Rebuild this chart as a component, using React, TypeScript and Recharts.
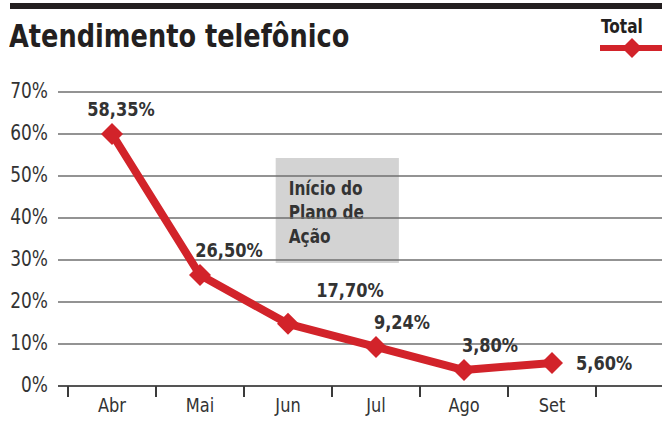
import React from 'react';
import { LineChart, Line, XAxis, YAxis, CartesianGrid, ReferenceArea, LabelList } from 'recharts';

// ---- data ----
const months = ['Abr', 'Mai', 'Jun', 'Jul', 'Ago', 'Set'];
const totalValues = [60, 26.4, 14.8, 9.3, 3.8, 5.5];
const totalLabels = ['58,35%', '26,50%', '17,70%', '9,24%', '3,80%', '5,60%'];
const yTicks = [0, 10, 20, 30, 40, 50, 60, 70];
const title = 'Atendimento telefônico';
const seriesName = 'Total';
const noteLines = ['Início do', 'Plano de', 'Ação'];
const noteX = [2.36, 3.76];
const noteY = [29.3, 54.3];

const data = months.map((m, i) => ({ month: m, pos: i + 0.5, total: totalValues[i], label: totalLabels[i] }));

// ---- styles ----
const RED = '#d2232a';
const INK = '#231f20';
const TXT = '#333333';
const FONT = '"Liberation Sans Narrow", "DejaVu Sans Condensed", "Arial Narrow", "Roboto", sans-serif';
const SQ = 0.9; // horizontal condensing of text
const W = 662;
const H = 446;
const Y_AXIS_W = 58;
const PAD_L = 10;
const PAD_R = 66;
const BAND = (W - Y_AXIS_W - PAD_L - PAD_R) / months.length;

// label placement relative to each point (styling)
const labelDx = [9, 29, 62, 26, 26, 24];
const labelDy = [-25, -25, -34, -25, -25, 0];

const CText = ({ x, y, children, ...rest }: any) => (
  <text transform={`translate(${x} ${y}) scale(${SQ} 1)`} x={0} y={0} fontFamily={FONT} {...rest}>
    {children}
  </text>
);

const XTick = (props: any) => {
  const { x, y, payload, index } = props;
  const half = BAND / 2;
  const isLast = index === months.length - 1;
  return (
    <g>
      <line x1={x - half} y1={y} x2={x - half} y2={y + 11} stroke="#3a3a3a" strokeWidth={2} />
      {isLast && <line x1={x + half} y1={y} x2={x + half} y2={y + 11} stroke="#3a3a3a" strokeWidth={2} />}
      <CText x={x} y={y + 26} textAnchor="middle" fontSize={20} fill={TXT}>
        {payload.value}
      </CText>
    </g>
  );
};

const YTick = (props: any) => {
  const { x, y, payload } = props;
  return (
    <CText x={x} y={y + 6} textAnchor="end" fontSize={21} fill={TXT}>
      {`${payload.value}%`}
    </CText>
  );
};

const Diamond = (props: any) => {
  const { cx, cy } = props;
  if (cx == null || cy == null) return null;
  const r = 11;
  return <polygon points={`${cx},${cy - r} ${cx + r},${cy} ${cx},${cy + r} ${cx - r},${cy}`} fill={RED} />;
};

const PointLabel = (props: any) => {
  const { x, y, index } = props;
  const last = index === months.length - 1;
  return (
    <CText
      x={x + labelDx[index]}
      y={y + labelDy[index] + 7}
      textAnchor={last ? 'start' : 'middle'}
      fontSize={20}
      fontWeight="bold"
      fill={TXT}
    >
      {totalLabels[index]}
    </CText>
  );
};

const NoteLabel = (props: any) => {
  const vb = props.viewBox || {};
  return (
    <g>
      {noteLines.map((t, i) => (
        <CText key={t} x={vb.x + 13} y={vb.y + 37 + i * 24} fontSize={19} fontWeight="bold" fill={TXT}>
          {t}
        </CText>
      ))}
    </g>
  );
};

export default function App() {
  return (
    <div style={{ position: 'absolute', left: 0, top: 0, width: W, height: H, background: '#fff', fontFamily: FONT }}>
      <div style={{ position: 'absolute', left: 10, top: 3, width: W - 10, height: 6, background: INK }} />
      <div
        style={{
          position: 'absolute',
          left: 9,
          top: 16,
          fontSize: 32,
          fontWeight: 'bold',
          color: INK,
          fontFamily: FONT,
          lineHeight: '40px',
          whiteSpace: 'nowrap',
          transform: `scaleX(${0.89})`,
          transformOrigin: 'left top',
        }}
      >
        {title}
      </div>
      <svg style={{ position: 'absolute', left: 590, top: 10 }} width={72} height={52}>
        <CText x={11} y={23} fontSize={19} fontWeight="bold" fill={INK}>
          {seriesName}
        </CText>
        <line x1={10} y1={38} x2={72} y2={38} stroke={RED} strokeWidth={6} />
        <polygon points="42,28 52,38 42,48 32,38" fill={RED} />
      </svg>
      <div style={{ position: 'absolute', left: 0, top: 0 }}>
        <LineChart width={W} height={H} data={data} margin={{ top: 92, right: 0, bottom: 0, left: 0 }}>
          <XAxis
            xAxisId="note"
            dataKey="pos"
            type="number"
            domain={[0, months.length]}
            allowDataOverflow
            hide
            padding={{ left: PAD_L, right: PAD_R }}
          />
          <ReferenceArea
            xAxisId="note"
            x1={noteX[0]}
            x2={noteX[1]}
            y1={noteY[0]}
            y2={noteY[1]}
            fill="#d3d3d3"
            fillOpacity={1}
            stroke="none"
            ifOverflow="visible"
            zIndex={-200}
            label={<NoteLabel />}
          />
          <CartesianGrid vertical={false} stroke="#6f6f6f" strokeWidth={1.5} />
          <XAxis
            dataKey="month"
            scale="band"
            height={60}
            interval={0}
            padding={{ left: PAD_L, right: PAD_R }}
            axisLine={{ stroke: '#555', strokeWidth: 2 }}
            tickLine={false}
            tickSize={0}
            tickMargin={0}
            tick={<XTick />}
          />
          <YAxis
            width={Y_AXIS_W}
            domain={[0, 70]}
            ticks={yTicks}
            interval={0}
            axisLine={false}
            tickLine={false}
            tickSize={0}
            tickMargin={10}
            tick={<YTick />}
          />
          <Line
            dataKey="total"
            name={seriesName}
            stroke={RED}
            strokeWidth={8}
            strokeLinejoin="round"
            dot={<Diamond />}
            activeDot={false}
            isAnimationActive={false}
          >
            <LabelList dataKey="label" content={<PointLabel />} />
          </Line>
        </LineChart>
      </div>
    </div>
  );
}
